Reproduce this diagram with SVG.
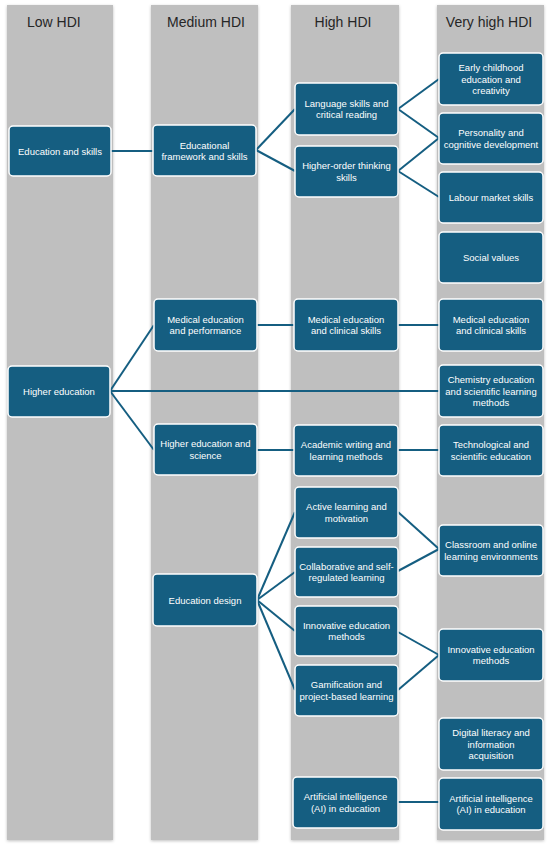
<svg xmlns="http://www.w3.org/2000/svg" width="550" height="847" viewBox="0 0 550 847">
<defs>
<filter id="sh" x="-10%" y="-5%" width="120%" height="110%">
<feDropShadow dx="0" dy="1" stdDeviation="1.5" flood-color="#000" flood-opacity="0.25"/>
</filter>
<style>
.col{fill:#bfbfbf;filter:url(#sh)}
.hdr{font-family:"Liberation Sans",Arial,sans-serif;font-size:14px;fill:#262626}
.box{fill:#155e81;stroke:#ffffff;stroke-width:1.5}
.lbl{font-family:"Liberation Sans",Arial,sans-serif;font-size:9.5px;fill:#ffffff;text-anchor:middle}
.con{stroke:#155e81;stroke-width:2;fill:none}
</style>
</defs>
<rect width="550" height="847" fill="#ffffff"/>
<g id="columns">
<rect class="col" x="7" y="5" width="106" height="835"/>
<rect class="col" x="151" y="5" width="107" height="835"/>
<rect class="col" x="291" y="5" width="108" height="835"/>
<rect class="col" x="437" y="5" width="107" height="835"/>
<text class="hdr" x="27" y="27">Low HDI</text>
<text class="hdr" x="206" y="27" text-anchor="middle">Medium HDI</text>
<text class="hdr" x="343" y="27" text-anchor="middle">High HDI</text>
<text class="hdr" x="489" y="27" text-anchor="middle">Very high HDI</text>
</g>
<g id="connectors">
<line class="con" x1="111" y1="151" x2="153" y2="151"/>
<line class="con" x1="256" y1="150" x2="295" y2="109"/>
<line class="con" x1="256" y1="150" x2="295" y2="171"/>
<line class="con" x1="398" y1="109" x2="439" y2="79"/>
<line class="con" x1="398" y1="109" x2="439" y2="138"/>
<line class="con" x1="398" y1="171" x2="439" y2="138"/>
<line class="con" x1="398" y1="171" x2="439" y2="197"/>
<line class="con" x1="110" y1="391" x2="154" y2="325"/>
<line class="con" x1="110" y1="391" x2="439" y2="391"/>
<line class="con" x1="110" y1="391" x2="154" y2="450"/>
<line class="con" x1="257" y1="325" x2="294" y2="325"/>
<line class="con" x1="398" y1="325" x2="439" y2="325"/>
<line class="con" x1="257" y1="450" x2="294" y2="450"/>
<line class="con" x1="398" y1="450" x2="439" y2="450"/>
<line class="con" x1="257" y1="600" x2="295" y2="512"/>
<line class="con" x1="257" y1="600" x2="295" y2="572"/>
<line class="con" x1="257" y1="600" x2="295" y2="631"/>
<line class="con" x1="257" y1="600" x2="295" y2="690"/>
<line class="con" x1="398" y1="512" x2="439" y2="549"/>
<line class="con" x1="398" y1="571" x2="439" y2="549"/>
<line class="con" x1="398" y1="632" x2="439" y2="655"/>
<line class="con" x1="398" y1="690" x2="439" y2="655"/>
<line class="con" x1="398" y1="802" x2="439" y2="802"/>
</g>
<g id="n-education-skills"><rect class="box" x="9" y="126" width="102" height="50" rx="4"/><text class="lbl" x="60" y="154.5">Education and skills</text></g>
<g id="n-higher-education"><rect class="box" x="8" y="366" width="102" height="51" rx="4"/><text class="lbl" x="59" y="395">Higher education</text></g>
<g id="n-educational-framework"><rect class="box" x="153" y="125" width="103" height="51" rx="4"/><text class="lbl" x="204.5" y="148.5">Educational<tspan x="204.5" dy="11.3">framework and skills</tspan></text></g>
<g id="n-medical-performance"><rect class="box" x="154" y="299" width="103" height="52" rx="4"/><text class="lbl" x="205.5" y="322.8">Medical education<tspan x="205.5" dy="11.3">and performance</tspan></text></g>
<g id="n-higher-ed-science"><rect class="box" x="154" y="424" width="103" height="51" rx="4"/><text class="lbl" x="205.5" y="447.3">Higher education and<tspan x="205.5" dy="11.3">science</tspan></text></g>
<g id="n-education-design"><rect class="box" x="153" y="574" width="104" height="52" rx="4"/><text class="lbl" x="205" y="603.5">Education design</text></g>
<g id="n-language-skills"><rect class="box" x="295" y="83" width="103" height="52" rx="4"/><text class="lbl" x="346.5" y="106.8">Language skills and<tspan x="346.5" dy="11.3">critical reading</tspan></text></g>
<g id="n-higher-order"><rect class="box" x="295" y="146" width="103" height="51" rx="4"/><text class="lbl" x="346.5" y="169.3">Higher-order thinking<tspan x="346.5" dy="11.3">skills</tspan></text></g>
<g id="n-medical-clinical-h"><rect class="box" x="294" y="299" width="104" height="52" rx="4"/><text class="lbl" x="346" y="322.8">Medical education<tspan x="346" dy="11.3">and clinical skills</tspan></text></g>
<g id="n-academic-writing"><rect class="box" x="294" y="425" width="104" height="51" rx="4"/><text class="lbl" x="346" y="448.3">Academic writing and<tspan x="346" dy="11.3">learning methods</tspan></text></g>
<g id="n-active-learning"><rect class="box" x="295" y="487" width="103" height="51" rx="4"/><text class="lbl" x="346.5" y="510.3">Active learning and<tspan x="346.5" dy="11.3">motivation</tspan></text></g>
<g id="n-collaborative"><rect class="box" x="295" y="547" width="103" height="50" rx="4"/><text class="lbl" x="346.5" y="569.8">Collaborative and self-<tspan x="346.5" dy="11.3">regulated learning</tspan></text></g>
<g id="n-innovative-h"><rect class="box" x="295" y="606" width="103" height="50" rx="4"/><text class="lbl" x="346.5" y="628.8">Innovative education<tspan x="346.5" dy="11.3">methods</tspan></text></g>
<g id="n-gamification"><rect class="box" x="295" y="665" width="103" height="51" rx="4"/><text class="lbl" x="346.5" y="688.3">Gamification and<tspan x="346.5" dy="11.3">project-based learning</tspan></text></g>
<g id="n-ai-h"><rect class="box" x="293" y="777" width="105" height="51" rx="4"/><text class="lbl" x="345.5" y="800.3">Artificial intelligence<tspan x="345.5" dy="11.3">(AI) in education</tspan></text></g>
<g id="n-early-childhood"><rect class="box" x="439" y="53" width="104" height="52" rx="4"/><text class="lbl" x="491" y="71.2">Early childhood<tspan x="491" dy="11.3">education and</tspan><tspan x="491" dy="11.3">creativity</tspan></text></g>
<g id="n-personality"><rect class="box" x="439" y="113" width="104" height="51" rx="4"/><text class="lbl" x="491" y="136.3">Personality and<tspan x="491" dy="11.3">cognitive development</tspan></text></g>
<g id="n-labour-market"><rect class="box" x="439" y="172" width="104" height="51" rx="4"/><text class="lbl" x="491" y="201">Labour market skills</text></g>
<g id="n-social-values"><rect class="box" x="439" y="232" width="104" height="51" rx="4"/><text class="lbl" x="491" y="261">Social values</text></g>
<g id="n-medical-clinical-v"><rect class="box" x="439" y="299" width="104" height="52" rx="4"/><text class="lbl" x="491" y="322.8">Medical education<tspan x="491" dy="11.3">and clinical skills</tspan></text></g>
<g id="n-chemistry"><rect class="box" x="439" y="365" width="104" height="52" rx="4"/><text class="lbl" x="491" y="383.2">Chemistry education<tspan x="491" dy="11.3">and scientific learning</tspan><tspan x="491" dy="11.3">methods</tspan></text></g>
<g id="n-technological"><rect class="box" x="439" y="425" width="104" height="51" rx="4"/><text class="lbl" x="491" y="448.3">Technological and<tspan x="491" dy="11.3">scientific education</tspan></text></g>
<g id="n-classroom"><rect class="box" x="439" y="525" width="104" height="51" rx="4"/><text class="lbl" x="491" y="548.3">Classroom and online<tspan x="491" dy="11.3">learning environments</tspan></text></g>
<g id="n-innovative-v"><rect class="box" x="439" y="629" width="104" height="52" rx="4"/><text class="lbl" x="491" y="652.8">Innovative education<tspan x="491" dy="11.3">methods</tspan></text></g>
<g id="n-digital-literacy"><rect class="box" x="439" y="718" width="104" height="52" rx="4"/><text class="lbl" x="491" y="736.2">Digital literacy and<tspan x="491" dy="11.3">information</tspan><tspan x="491" dy="11.3">acquisition</tspan></text></g>
<g id="n-ai-v"><rect class="box" x="439" y="778" width="104" height="52" rx="4"/><text class="lbl" x="491" y="801.8">Artificial intelligence<tspan x="491" dy="11.3">(AI) in education</tspan></text></g>
</svg>
